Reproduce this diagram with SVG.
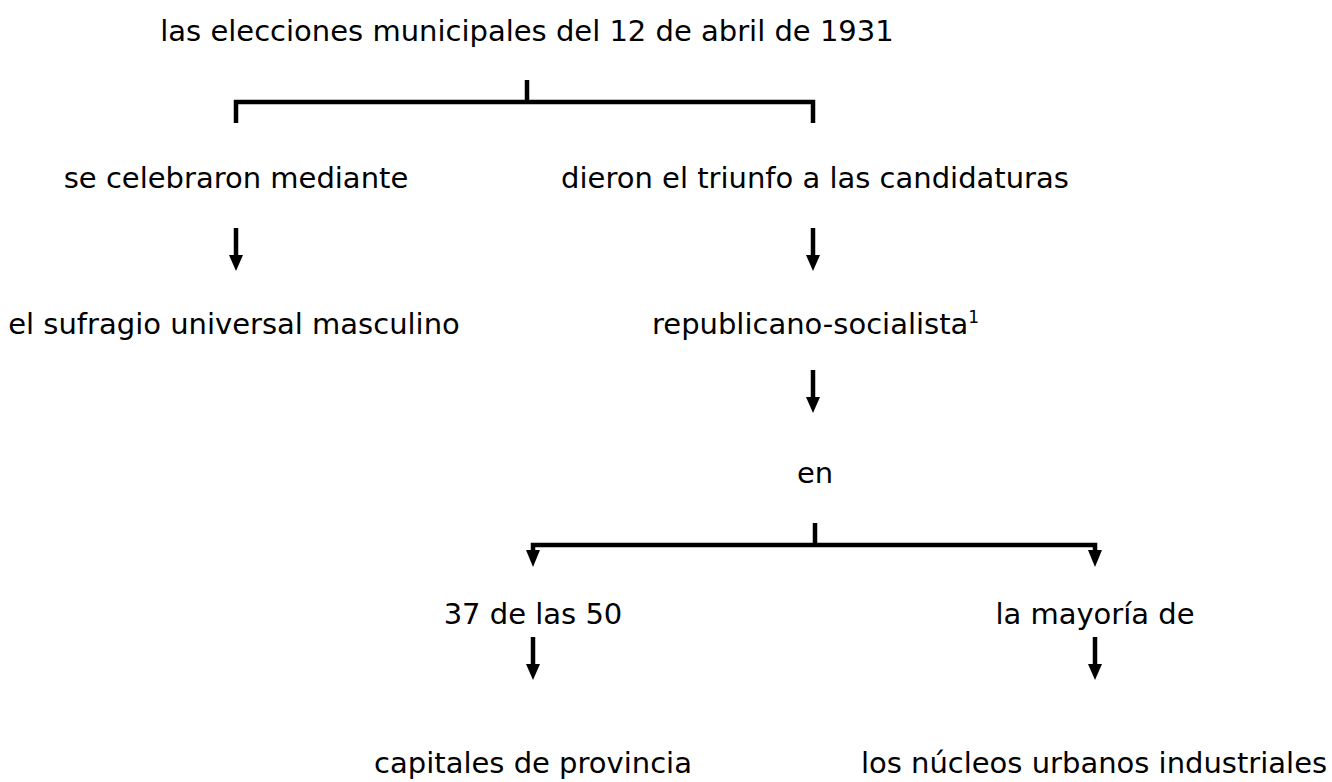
<svg xmlns="http://www.w3.org/2000/svg" width="1332" height="782" viewBox="0 0 1332 782">
  <style>
    text { font-family: "DejaVu Sans", "Liberation Sans", sans-serif; font-size: 29px; fill: #000; }
    .c { text-anchor: middle; }
    .ln { fill: none; stroke: #000; stroke-width: 4.5; stroke-linecap: butt; stroke-linejoin: miter; }
    .hd { fill: #000; }
  </style>
  <rect width="1332" height="782" fill="#fff"/>

  <g id="connectors">
    <path class="ln" d="M527,80 V102"/>
    <path class="ln" d="M236,123 V102 H813 V123"/>
    <path class="ln" d="M236,228 V256"/>
    <path class="hd" d="M229,255 L243,255 L236,271 Z"/>
    <path class="ln" d="M813,228 V256"/>
    <path class="hd" d="M806,255 L820,255 L813,271 Z"/>
    <path class="ln" d="M813,370 V398"/>
    <path class="hd" d="M806,397 L820,397 L813,413 Z"/>
    <path class="ln" d="M815,523 V545"/>
    <path class="ln" d="M533,551 V545 H1095 V551"/>
    <path class="hd" d="M526,550 L540,550 L533,567 Z"/>
    <path class="hd" d="M1088,550 L1102,550 L1095,567 Z"/>
    <path class="ln" d="M533,637 V665"/>
    <path class="hd" d="M526,664 L540,664 L533,680 Z"/>
    <path class="ln" d="M1095,637 V665"/>
    <path class="hd" d="M1088,664 L1102,664 L1095,680 Z"/>
  </g>

  <g id="n-elecciones"><text class="c" x="527" y="41">las elecciones municipales del 12 de abril de 1931</text></g>
  <g id="n-celebraron"><text class="c" x="236" y="188">se celebraron mediante</text></g>
  <g id="n-triunfo"><text class="c" x="815" y="188">dieron el triunfo a las candidaturas</text></g>
  <g id="n-sufragio"><text class="c" x="234" y="334">el sufragio universal masculino</text></g>
  <g id="n-republicano"><text x="652" y="334">republicano-socialista<tspan font-size="17" dy="-11">1</tspan></text></g>
  <g id="n-en"><text class="c" x="815" y="483">en</text></g>
  <g id="n-37"><text class="c" x="533" y="624">37 de las 50</text></g>
  <g id="n-mayoria"><text class="c" x="1095" y="624">la mayoría de</text></g>
  <g id="n-capitales"><text class="c" x="533" y="773">capitales de provincia</text></g>
  <g id="n-nucleos"><text class="c" x="1094" y="773">los núcleos urbanos industriales</text></g>
</svg>
